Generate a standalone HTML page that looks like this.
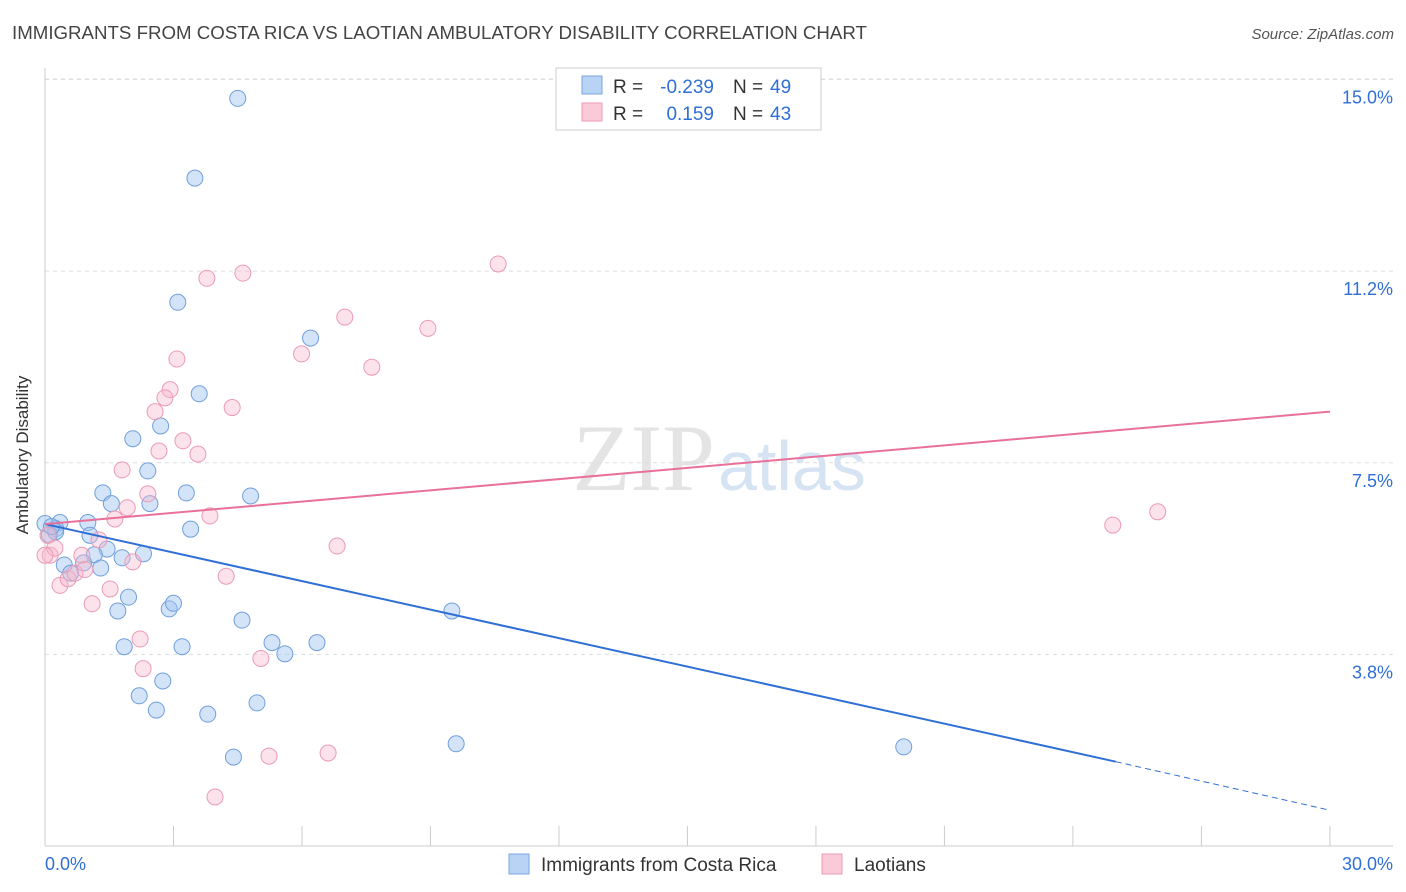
<!DOCTYPE html>
<html><head><meta charset="utf-8"><style>
body{margin:0;background:#fff;font-family:"Liberation Sans",sans-serif;}
svg{display:block}
</style></head><body>
<svg id="chart" width="1406" height="892" xmlns="http://www.w3.org/2000/svg">
<text x="12" y="39" font-size="18.7" fill="#444">IMMIGRANTS FROM COSTA RICA VS LAOTIAN AMBULATORY DISABILITY CORRELATION CHART</text>
<text x="1394" y="39" font-size="15" fill="#555" font-style="italic" text-anchor="end">Source: ZipAtlas.com</text>
<text x="715" y="490" font-size="95" fill="#e4e4e4" text-anchor="end" font-family="Liberation Serif">ZIP</text>
<text x="718" y="490" font-size="70" fill="#d6e3f3">atlas</text>
<g id="grid"></g><g id="axes"></g><g id="pts"></g><g id="lines"></g>
<text x="28" y="455" font-size="17" fill="#333" text-anchor="middle" transform="rotate(-90 28 455)">Ambulatory Disability</text>
<g>
<rect x="556" y="68" width="265" height="62" fill="#fff" stroke="#ccc"/>
<rect x="582" y="76" width="20" height="18" fill="#b9d3f5" stroke="#7aa5de"/>
<rect x="582" y="103" width="20" height="18" fill="#fbcad8" stroke="#eb9bb4"/>
<text x="613" y="93" font-size="19" fill="#333">R =</text>
<text x="714" y="93" font-size="19" fill="#2f6fd6" text-anchor="end">-0.239</text>
<text x="733" y="93" font-size="19" fill="#333">N =</text>
<text x="770" y="93" font-size="19" fill="#2f6fd6">49</text>
<text x="613" y="120" font-size="19" fill="#333">R =</text>
<text x="714" y="120" font-size="19" fill="#2f6fd6" text-anchor="end">0.159</text>
<text x="733" y="120" font-size="19" fill="#333">N =</text>
<text x="770" y="120" font-size="19" fill="#2f6fd6">43</text>
</g>
<g>
<rect x="509" y="854" width="20" height="20" fill="#b9d3f5" stroke="#7aa5de"/>
<text x="541" y="871" font-size="19" fill="#333">Immigrants from Costa Rica</text>
<rect x="822" y="854" width="20" height="20" fill="#fbcad8" stroke="#eb9bb4"/>
<text x="854" y="871" font-size="19" fill="#333">Laotians</text>
</g>
</svg>
<script>
const xTicks=[0,3,6,9,12,15,18,21,24,27,30];
const yTicks=[3.75,7.5,11.25,15];
const yTickLabels=["3.8%","7.5%","11.2%","15.0%"];
const blueX=[4.5,3.5,3.1,6.2,3.6,2.05,2.7,2.4,1.35,3.3,4.8,1.55,2.45,3.4,0,0.35,1.0,0.25,0.1,1.05,1.45,1.15,1.8,2.3,0.45,0.9,1.3,0.6,1.95,1.7,2.9,3.0,4.6,9.5,5.3,6.35,5.6,1.85,3.2,2.75,2.2,4.95,2.6,3.8,4.4,9.6,20.05,0.25,0.15];
const blueY=[14.63,13.07,10.64,9.94,8.85,7.97,8.22,7.34,6.91,6.91,6.85,6.7,6.7,6.2,6.31,6.33,6.33,6.21,6.09,6.08,5.81,5.7,5.64,5.72,5.5,5.54,5.44,5.34,4.87,4.6,4.64,4.75,4.42,4.6,3.98,3.98,3.76,3.9,3.9,3.23,2.94,2.8,2.66,2.58,1.74,2.0,1.94,6.15,6.25];
const pinkX=[4.62,3.78,10.58,7.0,8.94,3.08,5.99,7.63,2.92,2.8,2.57,4.37,3.22,2.66,3.57,1.8,2.4,1.92,3.85,1.63,24.93,25.98,6.82,1.26,0.86,2.05,4.23,0.35,0.54,0.7,1.52,1.1,2.22,2.29,5.04,5.23,6.61,3.97,0.12,0.07,0.23,0.93,0];
const pinkY=[11.21,11.11,11.39,10.35,10.13,9.53,9.63,9.37,8.93,8.77,8.5,8.58,7.93,7.73,7.67,7.36,6.89,6.62,6.46,6.4,6.28,6.54,5.87,5.99,5.69,5.56,5.28,5.1,5.23,5.34,5.03,4.74,4.05,3.47,3.67,1.76,1.82,0.96,5.69,6.08,5.83,5.41,5.69];
const blueFit=[6.3,1.65,0.7];
const pinkFit=[6.3,8.5];
const X=v=>45+v*42.83, Y=v=>846-v*51.1;
const NS="http://www.w3.org/2000/svg";
function mk(tag,attrs,parent){const e=document.createElementNS(NS,tag);for(const k in attrs)e.setAttribute(k,attrs[k]);document.getElementById(parent).appendChild(e);return e;}
yTicks.forEach((t,i)=>{
 const l=mk('line',{x1:45,x2:1393,y1:Y(t),y2:Y(t),stroke:'#ddd','stroke-dasharray':'4,4'},'grid');
 
 
 const tx=mk('text',{x:1393,y:Y(t)+24,'font-size':18,fill:'#2f6fd6','text-anchor':'end'},'grid');tx.textContent=yTickLabels[i];
 
 
});
const topLine=mk('line',{x1:45,x2:1393,y1:79,y2:79,stroke:'#ddd','stroke-dasharray':'4,4'},'grid');


const ya=mk('line',{x1:45,x2:45,y1:68,y2:846,stroke:'#ccc'},'axes');


const xa=mk('line',{x1:45,x2:1393,y1:846,y2:846,stroke:'#ccc'},'axes');


xTicks.forEach(t=>{const l=mk('line',{x1:X(t),x2:X(t),y1:826,y2:846,stroke:'#ccc'},'axes');
 
 });
const x0=mk('text',{x:45,y:870,'font-size':18,fill:'#2f6fd6'},'axes');x0.textContent='0.0%';


const x1=mk('text',{x:1393,y:870,'font-size':18,fill:'#2f6fd6','text-anchor':'end'},'axes');x1.textContent='30.0%';


blueX.forEach((v,i)=>{const c=mk('circle',{cx:X(v),cy:Y(blueY[i]),r:8,fill:'rgba(160,196,240,0.45)',stroke:'#6f9fdc','stroke-width':1},'pts');
 
 });
pinkX.forEach((v,i)=>{const c=mk('circle',{cx:X(v),cy:Y(pinkY[i]),r:8,fill:'rgba(248,182,204,0.4)',stroke:'#eb9bb4','stroke-width':1},'pts');
 
 });
const bl=mk('line',{x1:X(0),y1:Y(blueFit[0]),x2:X(25),y2:Y(blueFit[1]),stroke:'#2f6fd6','stroke-width':2},'lines');


const bd=mk('line',{x1:X(25),y1:Y(blueFit[1]),x2:X(30),y2:Y(blueFit[2]),stroke:'#2f6fd6','stroke-width':1,'stroke-dasharray':'6,4'},'lines');


const pl=mk('line',{x1:X(0),y1:Y(pinkFit[0]),x2:X(30),y2:Y(pinkFit[1]),stroke:'#e8709a','stroke-width':2},'lines');


</script>
</body></html>
